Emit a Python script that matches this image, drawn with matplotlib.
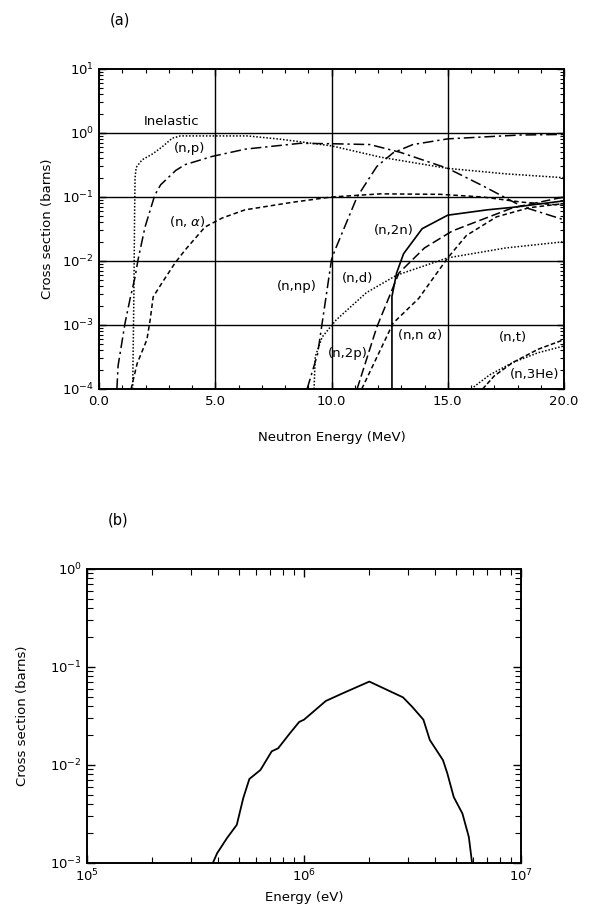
import numpy as np
import matplotlib
matplotlib.use("Agg")
import matplotlib.pyplot as plt
from matplotlib.ticker import MultipleLocator, LogLocator, NullFormatter, FixedLocator

plt.rcParams['font.family'] = ['DejaVu Sans']
plt.rcParams['mathtext.fontset'] = 'dejavusans'

# ---------------- Panel (a) data : energy (MeV) / cross section (barns)
inel_E = [1.45, 1.5, 1.53, 1.55, 1.6, 1.85, 2.3, 2.7, 3.15, 3.5, 5.0, 6.4, 7.8, 10.0, 12.1, 15.0, 17.5, 20.0]
inel_s = [1e-4, 3e-3, 5e-2, 0.2, 0.29, 0.38, 0.47, 0.6, 0.83, 0.9, 0.9, 0.9, 0.8, 0.63, 0.42, 0.28, 0.23, 0.2]

np_E = [0.77, 0.82, 1.12, 1.33, 1.55, 1.68, 1.98, 2.4, 2.65, 2.97, 3.3, 3.7, 4.86, 6.3, 8.65, 10.0, 11.65, 12.95, 15.0, 16.5, 18.2, 20.0]
np_s = [1e-4, 2.3e-4, 1.07e-3, 2.5e-3, 5.6e-3, 1.05e-2, 3.4e-2, 0.107, 0.155, 0.2, 0.26, 0.32, 0.43, 0.56, 0.69, 0.68, 0.66, 0.5, 0.28, 0.15, 0.071, 0.044]

na_E = [1.38, 1.64, 2.06, 2.2, 2.33, 2.7, 3.27, 3.7, 4.56, 5.3, 6.28, 8.35, 10.0, 12.1, 14.7, 16.5, 18.2, 20.0]
na_s = [1e-4, 2.5e-4, 5.9e-4, 1.2e-3, 2.75e-3, 4.5e-3, 9.3e-3, 1.48e-2, 3.4e-2, 4.7e-2, 6.3e-2, 8.3e-2, 0.1, 0.112, 0.11, 0.1, 0.083, 0.074]

nnp_E = [8.95, 9.4, 9.7, 10.0, 10.15, 11.1, 11.95, 12.65, 13.5, 15.0, 18.1, 20.0]
nnp_s = [1e-4, 3.5e-4, 1.9e-3, 1.05e-2, 1.48e-2, 0.1, 0.3, 0.49, 0.66, 0.81, 0.93, 0.95]

nd_E = [9.25, 9.3, 9.6, 10.2, 11.5, 12.8, 15.0, 17.5, 20.0]
nd_s = [1e-4, 3.2e-4, 6.5e-4, 1.2e-3, 3.2e-3, 6e-3, 1.12e-2, 1.6e-2, 2e-2]

n2p_E = [11.1, 11.95, 12.9, 14.0, 15.2, 17.8, 20.0]
n2p_s = [1e-4, 9.3e-4, 6.5e-3, 1.6e-2, 2.95e-2, 6.8e-2, 0.1]

nna_E = [11.3, 12.65, 13.75, 15.0, 15.8, 17.1, 18.5, 20.0]
nna_s = [1e-4, 1.07e-3, 2.6e-3, 1.12e-2, 2.5e-2, 4.9e-2, 6.8e-2, 7.9e-2]

n2n_E = [12.6, 12.6, 12.8, 13.1, 13.9, 15.0, 16.7, 17.8, 20.0]
n2n_s = [1e-4, 2.8e-3, 6.5e-3, 1.3e-2, 3.2e-2, 5.2e-2, 6.3e-2, 6.9e-2, 8.7e-2]

nt_E = [16.5, 17.0, 17.8, 18.9, 20.0]
nt_s = [1e-4, 1.6e-4, 2.6e-4, 4.2e-4, 5.9e-4]

nhe_E = [16.0, 16.8, 17.8, 18.9, 20.0]
nhe_s = [1e-4, 1.66e-4, 2.6e-4, 3.7e-4, 4.7e-4]

xticks_a = [0.0, 5.0, 10.0, 15.0, 20.0]
xtick_labels_a = ["0.0", "5.0", "10.0", "15.0", "20.0"]

# ---------------- Panel (b) data : energy (eV) / cross section (barns)
b_E = [3.8e5, 3.98e5, 4.42e5, 4.9e5, 5.25e5, 5.6e5, 6.3e5, 7.1e5, 7.6e5, 8.6e5, 9.5e5,
       1.0e6, 1.26e6, 1.51e6, 2.0e6, 2.86e6, 3.16e6, 3.55e6, 3.8e6, 4.37e6, 4.57e6,
       4.9e6, 5.37e6, 5.75e6, 5.95e6]
b_s = [1e-3, 1.26e-3, 1.8e-3, 2.45e-3, 4.6e-3, 7.2e-3, 8.9e-3, 1.38e-2, 1.48e-2, 2.1e-2, 2.75e-2,
       2.9e-2, 4.5e-2, 5.4e-2, 7.1e-2, 4.9e-2, 3.9e-2, 2.9e-2, 1.8e-2, 1.12e-2, 8.3e-3,
       4.7e-3, 3.2e-3, 1.84e-3, 1e-3]

W, H = 590, 911
fig = plt.figure(figsize=(W / 100, H / 100), dpi=100)

def frac(l, t, r, b):
    return [l / W, 1 - b / H, (r - l) / W, (b - t) / H]

fs = 9.5
lw = 1.1

# ================= (a)
ax = fig.add_axes(frac(99, 69, 564, 389))
ax.set_yscale('log')
ax.set_xlim(0, 20)
ax.set_ylim(1e-4, 10)

ax.plot(inel_E, inel_s, color='black', lw=lw, ls=(0, (1, 1.2)))
ax.plot(np_E, np_s, color='black', lw=lw, ls=(0, (7, 2.5, 1.5, 2.5)))
ax.plot(na_E, na_s, color='black', lw=lw, ls=(0, (3, 2)))
ax.plot(nnp_E, nnp_s, color='black', lw=lw, ls=(0, (7, 2.5, 1.5, 2.5)))
ax.plot(nd_E, nd_s, color='black', lw=lw, ls=(0, (1, 1.2)))
ax.plot(n2p_E, n2p_s, color='black', lw=lw, ls=(0, (6, 2.5)))
ax.plot(nna_E, nna_s, color='black', lw=lw, ls=(0, (3, 2)))
ax.plot(n2n_E, n2n_s, color='black', lw=lw * 1.1, ls='-')
ax.plot(nt_E, nt_s, color='black', lw=lw, ls=(0, (3, 1.5)))
ax.plot(nhe_E, nhe_s, color='black', lw=lw, ls=(0, (1, 1.2)))

# grid
for xv in [5.0, 10.0, 15.0]:
    ax.axvline(xv, color='black', lw=1.0, zorder=1)
for yv in [1e-3, 1e-2, 1e-1, 1e0]:
    ax.axhline(yv, color='black', lw=1.0, zorder=1)

ax.xaxis.set_major_locator(FixedLocator(xticks_a))
ax.set_xticklabels(xtick_labels_a)
ax.xaxis.set_minor_locator(MultipleLocator(1.0))
ax.yaxis.set_major_locator(LogLocator(base=10, numticks=10))
ax.yaxis.set_minor_locator(LogLocator(base=10, subs=np.arange(2, 10), numticks=10))
ax.yaxis.set_minor_formatter(NullFormatter())
ax.tick_params(which='both', direction='in', top=True, right=True, labelsize=fs, colors='black')
ax.tick_params(which='major', length=5, width=1)
ax.tick_params(which='minor', length=3, width=0.8)
ax.tick_params(axis='x', pad=4)
for s in ax.spines.values():
    s.set_linewidth(1.4)

ax.set_xlabel("Neutron Energy (MeV)", fontsize=fs, labelpad=17)
ax.set_ylabel("Cross section (barns)", fontsize=fs, labelpad=6)

tk = dict(fontsize=fs, ha='center', va='center', color='black')
ax.text(3.1, 1.5, "Inelastic", **tk)
ax.text(3.9, 0.58, "(n,p)", **tk)
ax.text(3.8, 0.041, r"(n, $\alpha$)", **tk)
ax.text(8.5, 4.0e-3, "(n,np)", **tk)
ax.text(11.1, 5.4e-3, "(n,d)", **tk)
ax.text(10.7, 3.6e-4, "(n,2p)", **tk)
ax.text(13.8, 7.0e-4, r"(n,n $\alpha$)", **tk)
ax.text(12.7, 3.0e-2, "(n,2n)", **tk)
ax.text(17.8, 6.3e-4, "(n,t)", **tk)
ax.text(18.75, 1.66e-4, "(n,3He)", **tk)

fig.text(120 / W, 1 - 20 / H, "(a)", fontsize=fs + 1, ha='center', va='center')

# ================= (b)
bx = fig.add_axes(frac(87, 569, 521, 863))
bx.set_xscale('log')
bx.set_yscale('log')
bx.set_xlim(1e5, 1e7)
bx.set_ylim(1e-3, 1e0)
bx.plot(b_E, b_s, color='black', lw=1.3)
bx.xaxis.set_major_locator(LogLocator(base=10, numticks=10))
bx.xaxis.set_minor_locator(LogLocator(base=10, subs=np.arange(2, 10), numticks=10))
bx.yaxis.set_major_locator(LogLocator(base=10, numticks=10))
bx.yaxis.set_minor_locator(LogLocator(base=10, subs=np.arange(2, 10), numticks=10))
bx.xaxis.set_minor_formatter(NullFormatter())
bx.yaxis.set_minor_formatter(NullFormatter())
bx.tick_params(which='both', direction='in', top=True, right=True, labelsize=fs, colors='black')
bx.tick_params(which='major', length=6, width=1)
bx.tick_params(which='minor', length=4, width=0.8)
for s in bx.spines.values():
    s.set_linewidth(1.4)
bx.set_xlabel("Energy (eV)", fontsize=fs, labelpad=5)
bx.set_ylabel("Cross section (barns)", fontsize=fs, labelpad=15)

fig.text(118 / W, 1 - 520 / H, "(b)", fontsize=fs + 1, ha='center', va='center')

fig.savefig("out.png", dpi=100)
